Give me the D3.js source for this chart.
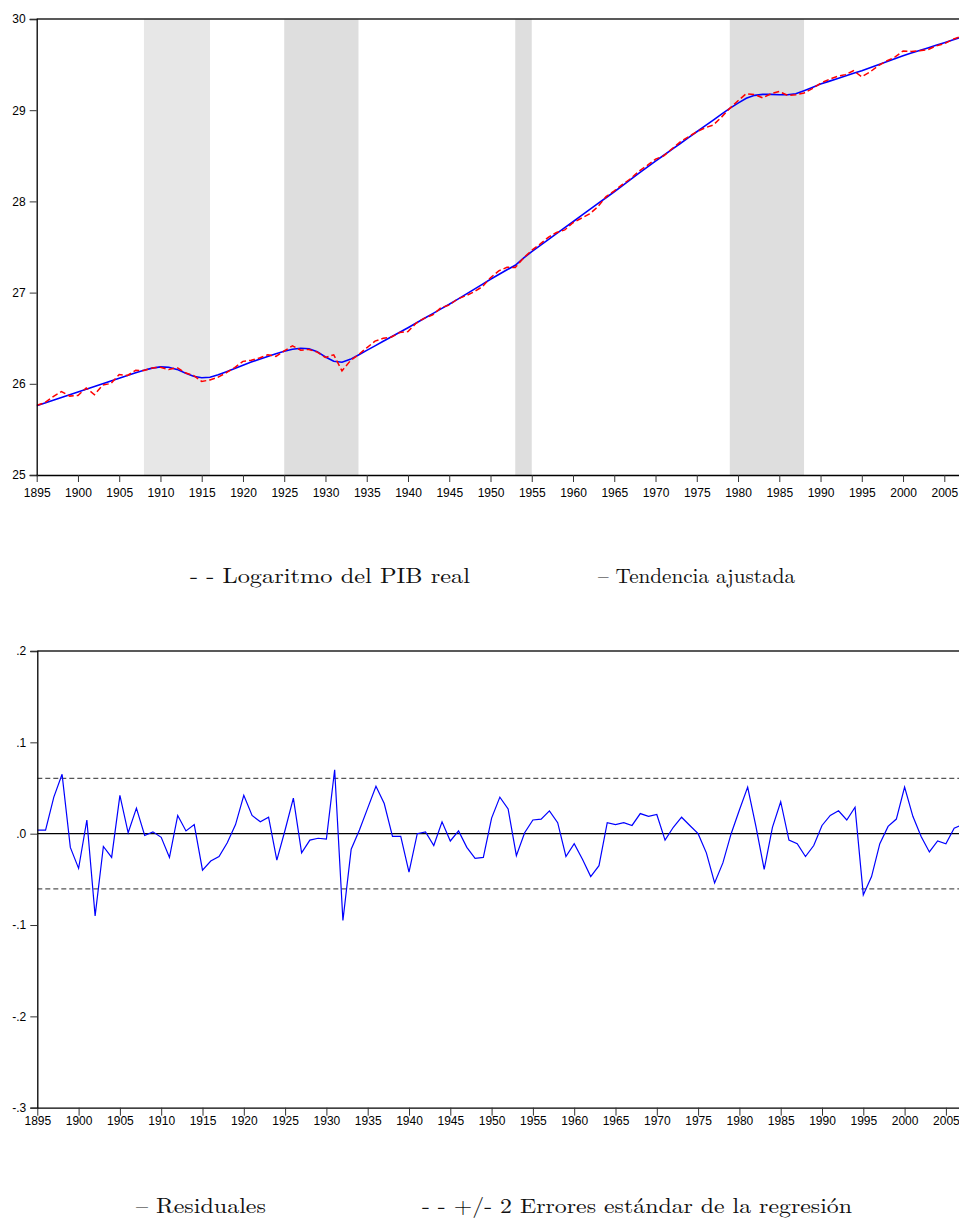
<!DOCTYPE html>
<html><head><meta charset="utf-8">
<script src="https://cdn.jsdelivr.net/npm/d3@7"></script>
<style>body{margin:0;background:#fff}</style>
</head><body>
<svg id="c" width="959" height="1218"></svg>
<script>
// ---------------- DATA ----------------
const firstYear = 1895, lastYear = 2007;
const years = d3.range(firstYear, lastYear + 1);

// Fitted trend (blue, top chart)
const trendValues = [
25.760,25.790,25.820,25.850,25.880,25.910,25.940,25.970,26.000,26.030,
26.060,26.090,26.120,26.148,26.172,26.186,26.182,26.158,26.118,26.082,
26.066,26.072,26.098,26.132,26.168,26.204,26.238,26.270,26.300,26.330,
26.356,26.378,26.390,26.384,26.352,26.294,26.248,26.236,26.268,26.316,
26.366,26.416,26.466,26.516,26.566,26.615,26.666,26.718,26.770,26.821,
26.872,26.926,26.980,27.035,27.090,27.146,27.198,27.250,27.300,27.378,
27.449,27.515,27.581,27.647,27.712,27.777,27.843,27.909,27.975,28.040,
28.106,28.174,28.242,28.310,28.376,28.442,28.506,28.570,28.635,28.700,
28.764,28.828,28.892,28.956,29.020,29.078,29.130,29.163,29.174,29.174,
29.170,29.170,29.180,29.214,29.250,29.287,29.316,29.345,29.375,29.404,
29.433,29.466,29.499,29.532,29.565,29.598,29.626,29.655,29.683,29.712,
29.740,29.770,29.800];

// Log of real GDP (red dashed, top chart)
const logGdpValues = [
25.764,25.794,25.860,25.915,25.865,25.872,25.955,25.880,25.986,26.004,
26.102,26.091,26.148,26.146,26.174,26.182,26.156,26.178,26.121,26.092,
26.026,26.042,26.073,26.122,26.178,26.246,26.258,26.283,26.318,26.301,
26.360,26.417,26.369,26.377,26.347,26.288,26.318,26.141,26.251,26.320,
26.394,26.468,26.499,26.513,26.563,26.573,26.666,26.720,26.757,26.834,
26.864,26.929,26.965,27.008,27.064,27.163,27.238,27.277,27.276,27.379,
27.464,27.531,27.606,27.659,27.687,27.766,27.815,27.862,27.940,28.052,
28.116,28.186,28.251,28.332,28.395,28.463,28.499,28.577,28.653,28.709,
28.764,28.807,28.838,28.924,29.020,29.104,29.181,29.171,29.135,29.181,
29.205,29.163,29.169,29.189,29.237,29.296,29.336,29.370,29.390,29.433,
29.366,29.419,29.488,29.540,29.581,29.649,29.645,29.652,29.663,29.704,
29.729,29.776,29.810];

// Residuals (blue, bottom chart)
const residualValues = [
 0.004, 0.004, 0.040, 0.065,-0.015,-0.038, 0.015,-0.090,-0.014,-0.026,
 0.042, 0.001, 0.028,-0.002, 0.002,-0.004,-0.026, 0.020, 0.003, 0.010,
-0.040,-0.030,-0.025,-0.010, 0.010, 0.042, 0.020, 0.013, 0.018,-0.029,
 0.004, 0.039,-0.021,-0.007,-0.005,-0.006, 0.070,-0.095,-0.017, 0.004,
 0.028, 0.052, 0.033,-0.003,-0.003,-0.042, 0.000, 0.002,-0.013, 0.013,
-0.008, 0.003,-0.015,-0.027,-0.026, 0.017, 0.040, 0.027,-0.024, 0.001,
 0.015, 0.016, 0.025, 0.012,-0.025,-0.011,-0.028,-0.047,-0.035, 0.012,
 0.010, 0.012, 0.009, 0.022, 0.019, 0.021,-0.007, 0.007, 0.018, 0.009,
 0.000,-0.021,-0.054,-0.032, 0.000, 0.026, 0.051, 0.008,-0.039, 0.007,
 0.035,-0.007,-0.011,-0.025,-0.013, 0.009, 0.020, 0.025, 0.015, 0.029,
-0.067,-0.047,-0.011, 0.008, 0.016, 0.051, 0.019,-0.003,-0.020,-0.008,
-0.011, 0.006, 0.010];

// +/- 2 standard errors of the regression
const twoStdErr = 0.0605;

// Shaded periods
const shadeStart = [1908, 1925, 1953, 1979];
const shadeEnd   = [1916, 1934, 1955, 1988];

// Ticks
const xTickYears = [1895,1900,1905,1910,1915,1920,1925,1930,1935,1940,1945,1950,1955,1960,1965,1970,1975,1980,1985,1990,1995,2000,2005];
const topYTicks = [25, 26, 27, 28, 29, 30];
const botYTicks = [-0.3, -0.2, -0.1, 0.0, 0.1, 0.2];
const botYTickLabels = ["-.3", "-.2", "-.1", ".0", ".1", ".2"];

// Legend texts
const topLegend = ["- - Logaritmo del PIB real", "– Tendencia ajustada"];
const botLegend = ["– Residuales", "- - +/- 2 Errores estándar de la regresión"];

// ---------------- DRAW ----------------
const svg = d3.select("#c");
const W = 959;
const tickFont = "'Liberation Sans Narrow','Arial Narrow','Liberation Sans',Arial,sans-serif";
const serif = "'Latin Modern Roman','CMU Serif','Liberation Serif','DejaVu Serif',serif";

const topBox = {x0: 36.7, y0: 19, y1: 475};
const botBox = {x0: 37.3, y0: 651, y1: 1107.7};

const xTop = d3.scaleLinear().domain([1895, 2005]).range([36.7, 944.3]);
const yTop = d3.scaleLinear().domain([25, 30]).range([topBox.y1, topBox.y0]);
const xBot = d3.scaleLinear().domain([1895, 2005]).range([37.3, 945.9]);
const yBot = d3.scaleLinear().domain([-0.3, 0.2]).range([botBox.y1, botBox.y0]);

svg.append("defs").html(
  `<clipPath id="clipTop"><rect x="${topBox.x0}" y="${topBox.y0}" width="${W - topBox.x0}" height="${topBox.y1 - topBox.y0}"/></clipPath>
   <clipPath id="clipBot"><rect x="${botBox.x0}" y="${botBox.y0}" width="${W - botBox.x0}" height="${botBox.y1 - botBox.y0}"/></clipPath>`);

// ---- Top chart ----
const gT = svg.append("g");
const shades = shadeStart.map((s, i) => ({s, e: shadeEnd[i], i}));
gT.append("g").attr("clip-path", "url(#clipTop)").selectAll("rect").data(shades).join("rect")
  .attr("x", d => xTop(d.s)).attr("width", d => xTop(d.e) - xTop(d.s))
  .attr("y", topBox.y0).attr("height", topBox.y1 - topBox.y0)
  .attr("fill", d => d.i === 0 ? "#e7e7e7" : "#dedede");

const lineTop = (vals) => d3.line().x((d, i) => xTop(years[i])).y(d => yTop(d))(vals);
const plotT = gT.append("g").attr("clip-path", "url(#clipTop)");
plotT.append("path").attr("d", lineTop(trendValues)).attr("fill", "none")
  .attr("stroke", "#0000ff").attr("stroke-width", 1.6);
plotT.append("path").attr("d", lineTop(logGdpValues)).attr("fill", "none")
  .attr("stroke", "#ff0000").attr("stroke-width", 1.5).attr("stroke-dasharray", "6,3");

gT.append("line").attr("x1", topBox.x0).attr("x2", W).attr("y1", topBox.y0).attr("y2", topBox.y0)
  .attr("stroke", "#222").attr("stroke-width", 1.3);

gT.append("g").attr("transform", `translate(${topBox.x0},0)`)
  .call(d3.axisLeft(yTop).tickValues(topYTicks).tickSize(7).tickPadding(4).tickFormat(d3.format("d")));
const axXT = gT.append("g").attr("transform", `translate(0,${topBox.y1})`)
  .call(d3.axisBottom(xTop).tickValues(xTickYears).tickSize(7).tickPadding(6).tickFormat(d3.format("d")));
axXT.select(".domain").attr("d", `M${topBox.x0},0.5H${W}`);

// ---- Bottom chart ----
const gB = svg.append("g");
const lineBot = d3.line().x((d, i) => xBot(years[i])).y(d => yBot(d));
const plotB = gB.append("g").attr("clip-path", "url(#clipBot)");
[twoStdErr, -twoStdErr].forEach(v => {
  plotB.append("line").attr("x1", botBox.x0).attr("x2", W).attr("y1", yBot(v)).attr("y2", yBot(v))
    .attr("stroke", "#555").attr("stroke-width", 1.2).attr("stroke-dasharray", "5,3");
});
plotB.append("line").attr("x1", botBox.x0).attr("x2", W).attr("y1", yBot(0)).attr("y2", yBot(0))
  .attr("stroke", "#000").attr("stroke-width", 1.3);
plotB.append("path").attr("d", lineBot(residualValues)).attr("fill", "none")
  .attr("stroke", "#0000ff").attr("stroke-width", 1.2);

gB.append("line").attr("x1", botBox.x0).attr("x2", W).attr("y1", botBox.y0).attr("y2", botBox.y0)
  .attr("stroke", "#222").attr("stroke-width", 1.3);

gB.append("g").attr("transform", `translate(${botBox.x0},0)`)
  .call(d3.axisLeft(yBot).tickValues(botYTicks).tickSize(7).tickPadding(4)
    .tickFormat((d, i) => botYTickLabels[i]));
const axXB = gB.append("g").attr("transform", `translate(0,${botBox.y1})`)
  .call(d3.axisBottom(xBot).tickValues(xTickYears).tickSize(8).tickPadding(1).tickFormat(d3.format("d")));
axXB.select(".domain").attr("d", `M${botBox.x0},0.5H${W}`);

svg.selectAll(".tick text").attr("font-family", tickFont).attr("font-size", 12).attr("fill", "#000");
svg.selectAll(".domain").attr("stroke", "#000").attr("stroke-width", 1.3);
svg.selectAll(".tick line").attr("stroke", "#333");

// ---- Legends ----
function legendText(str, x, y, w) {
  svg.append("text").attr("x", x).attr("y", y).text(str)
    .attr("font-family", serif).attr("font-size", 21).attr("fill", "#111")
    .attr("textLength", w).attr("lengthAdjust", "spacingAndGlyphs");
}
legendText(topLegend[0], 190, 583, 280);
legendText(topLegend[1], 598, 583, 197);
legendText(botLegend[0], 136, 1213, 130);
legendText(botLegend[1], 422, 1213, 430);
</script>
</body></html>
